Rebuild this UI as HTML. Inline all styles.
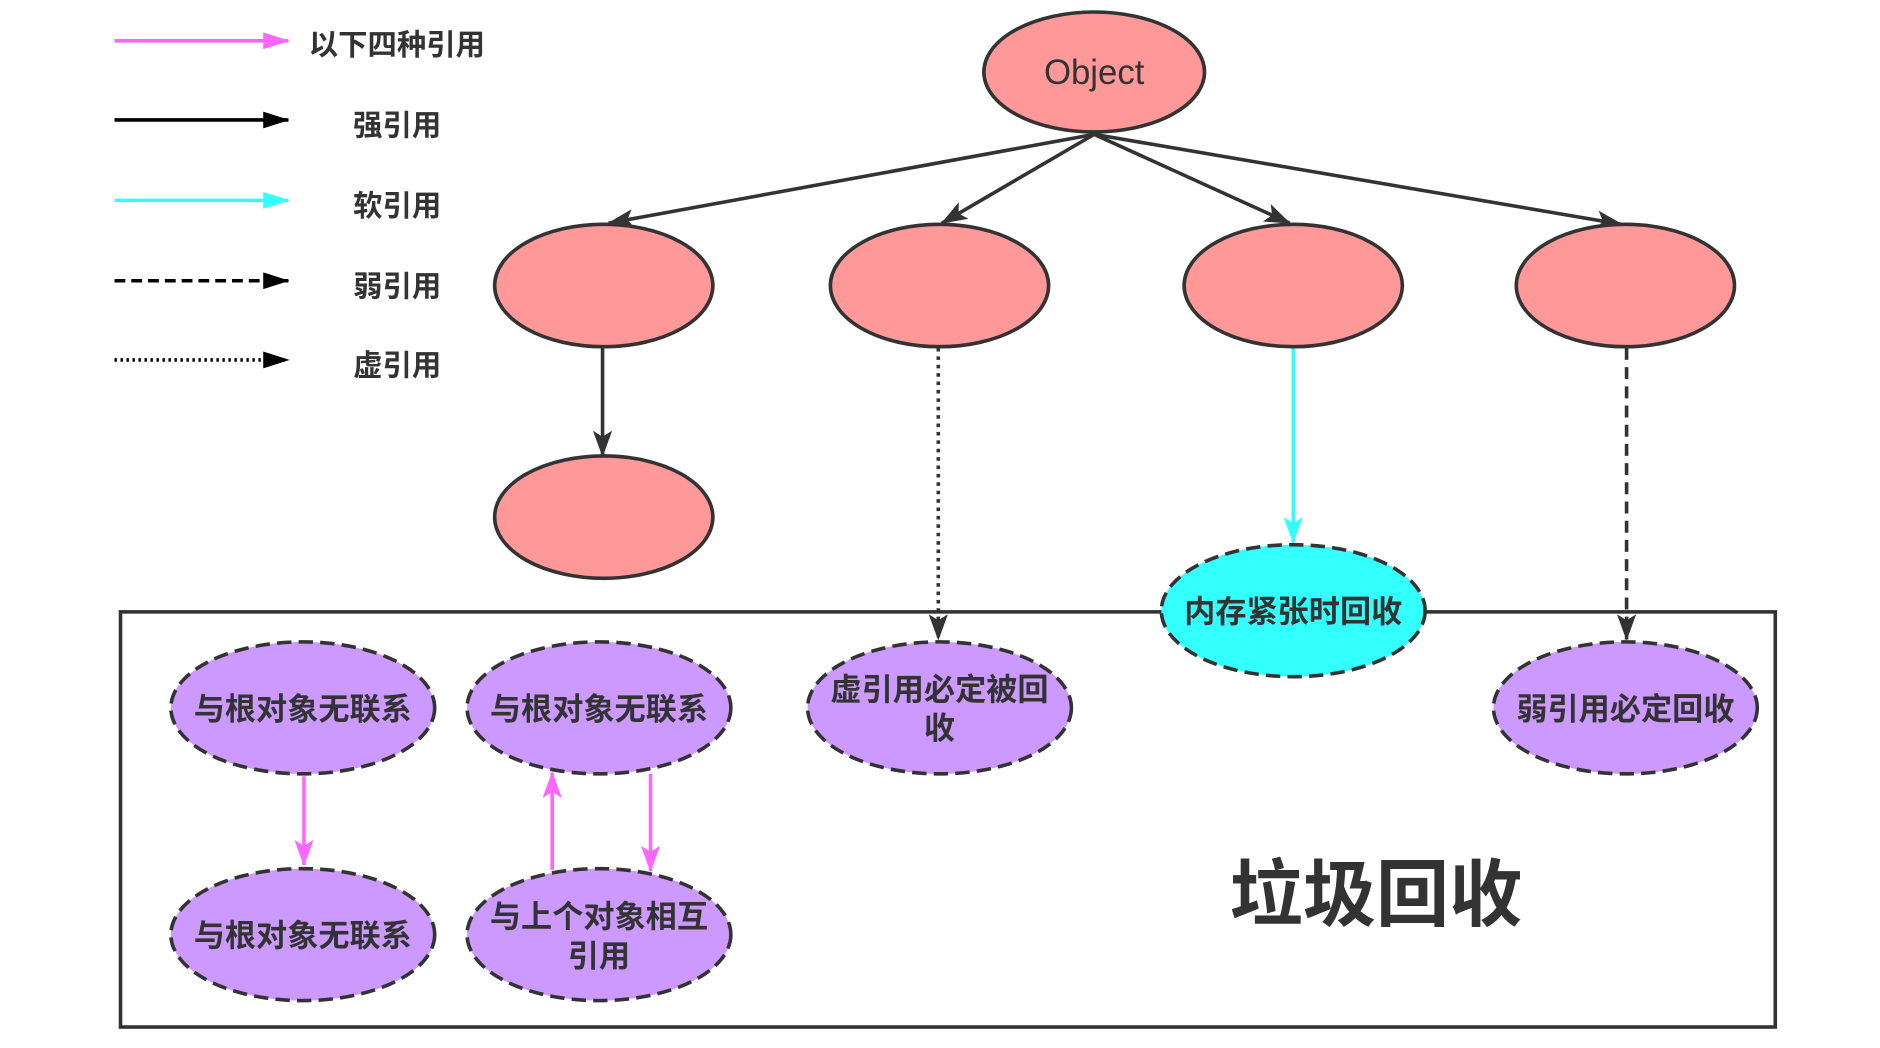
<!DOCTYPE html>
<html><head><meta charset="utf-8"><style>
html,body{margin:0;padding:0;background:#fff;}
svg{display:block}
text{font-family:"Liberation Sans","Noto Sans CJK SC",sans-serif;fill:#333;}
</style></head><body>
<svg width="1880" height="1048" viewBox="0 0 1560 870" preserveAspectRatio="none" xmlns="http://www.w3.org/2000/svg">
<defs>
<marker id="ak" markerWidth="22" markerHeight="14" refX="21" refY="7" orient="auto" markerUnits="userSpaceOnUse"><path d="M0,0 L22,7 L0,14 z" fill="#000"/></marker>
<marker id="ap" markerWidth="22" markerHeight="14" refX="21" refY="7" orient="auto" markerUnits="userSpaceOnUse"><path d="M0,0 L22,7 L0,14 z" fill="#ff66ff"/></marker>
<marker id="ac" markerWidth="22" markerHeight="14" refX="21" refY="7" orient="auto" markerUnits="userSpaceOnUse"><path d="M0,0 L22,7 L0,14 z" fill="#33ffff"/></marker>
<marker id="a2" markerWidth="22" markerHeight="16" refX="21" refY="8" orient="auto" markerUnits="userSpaceOnUse"><path d="M0,0 L22,8 L0,16 L5,8 z" fill="#333"/></marker>
<marker id="ac2" markerWidth="22" markerHeight="16" refX="21" refY="8" orient="auto" markerUnits="userSpaceOnUse"><path d="M0,0 L22,8 L0,16 L5,8 z" fill="#33ffff"/></marker>
<marker id="ap2" markerWidth="22" markerHeight="16" refX="21" refY="8" orient="auto" markerUnits="userSpaceOnUse"><path d="M0,0 L22,8 L0,16 L5,8 z" fill="#ff66ff"/></marker>
</defs>
<g transform="translate(0.5,0) scale(0.995,0.996)">
<line x1="95" y1="34" x2="240" y2="34" stroke="#ff66ff" stroke-width="3" marker-end="url(#ap)"/>
<line x1="95" y1="100" x2="240" y2="100" stroke="#000" stroke-width="3" marker-end="url(#ak)"/>
<line x1="95" y1="167" x2="240" y2="167" stroke="#33ffff" stroke-width="3" marker-end="url(#ac)"/>
<line x1="95" y1="234" x2="240" y2="234" stroke="#000" stroke-width="3" stroke-dasharray="9,5" marker-end="url(#ak)"/>
<line x1="95" y1="300" x2="240" y2="300" stroke="#000" stroke-width="3" stroke-dasharray="2,3" marker-end="url(#ak)"/>
<g font-size="24.5" font-weight="bold">
<text x="257" y="46">以下四种引用</text>
<text x="294" y="113">强引用</text>
<text x="294" y="180">软引用</text>
<text x="294" y="247">弱引用</text>
<text x="294" y="313">虚引用</text>
</g>
<rect x="100" y="510" width="1380" height="346" fill="none" stroke="#333" stroke-width="3"/>
<g stroke="#333" stroke-width="3" fill="none">
<line x1="912" y1="112" x2="507" y2="186" marker-end="url(#a2)"/>
<line x1="912" y1="112" x2="785" y2="186" marker-end="url(#a2)"/>
<line x1="912" y1="112" x2="1075" y2="186" marker-end="url(#a2)"/>
<line x1="912" y1="112" x2="1352" y2="187" marker-end="url(#a2)"/>
<line x1="502" y1="290" x2="502" y2="380" marker-end="url(#a2)"/>
<line x1="782" y1="290" x2="782" y2="533" stroke-dasharray="3,4" marker-end="url(#a2)"/>
<line x1="1356" y1="290" x2="1356" y2="533" stroke-dasharray="10,6" marker-end="url(#a2)"/>
</g>
<line x1="1078" y1="290" x2="1078" y2="452" stroke="#33ffff" stroke-width="3" marker-end="url(#ac2)"/>
<g stroke="#333" stroke-width="3" fill="#ff9999">
<ellipse cx="912" cy="60" rx="92" ry="50"/>
<ellipse cx="503" cy="238" rx="91" ry="51"/>
<ellipse cx="783" cy="238" rx="91" ry="51"/>
<ellipse cx="1078" cy="238" rx="91" ry="51"/>
<ellipse cx="1355" cy="238" rx="91" ry="51"/>
<ellipse cx="503" cy="431" rx="91" ry="51"/>
</g>
<text x="912" y="70" font-size="29" text-anchor="middle">Object</text>
<g stroke="#333" stroke-width="3" stroke-dasharray="12,6">
<ellipse cx="1078" cy="509" rx="110" ry="55" fill="#33ffff"/>
<g fill="#cc99ff">
<ellipse cx="252" cy="590" rx="110" ry="55"/>
<ellipse cx="499" cy="590" rx="110" ry="55"/>
<ellipse cx="783" cy="590" rx="110" ry="55"/>
<ellipse cx="1355" cy="590" rx="110" ry="55"/>
<ellipse cx="252" cy="779" rx="110" ry="55"/>
<ellipse cx="499" cy="779" rx="110" ry="55"/>
</g>
</g>
<g stroke="#ff66ff" stroke-width="3">
<line x1="253" y1="647" x2="253" y2="721" marker-end="url(#ap2)"/>
<line x1="460" y1="725" x2="460" y2="644" marker-end="url(#ap2)"/>
<line x1="542" y1="645" x2="542" y2="726" marker-end="url(#ap2)"/>
</g>
<g font-size="26" font-weight="bold" text-anchor="middle">
<text x="1078" y="519">内存紧张时回收</text>
<text x="252" y="600">与根对象无联系</text>
<text x="499" y="600">与根对象无联系</text>
<text x="783" y="584">虚引用必定被回</text>
<text x="783" y="616">收</text>
<text x="1355" y="600">弱引用必定回收</text>
<text x="252" y="789">与根对象无联系</text>
<text x="499" y="773">与上个对象相互</text>
<text x="499" y="806">引用</text>
</g>
<text x="1147" y="767" font-size="61" font-weight="bold" text-anchor="middle">垃圾回收</text>
</g>
</svg>
</body></html>
